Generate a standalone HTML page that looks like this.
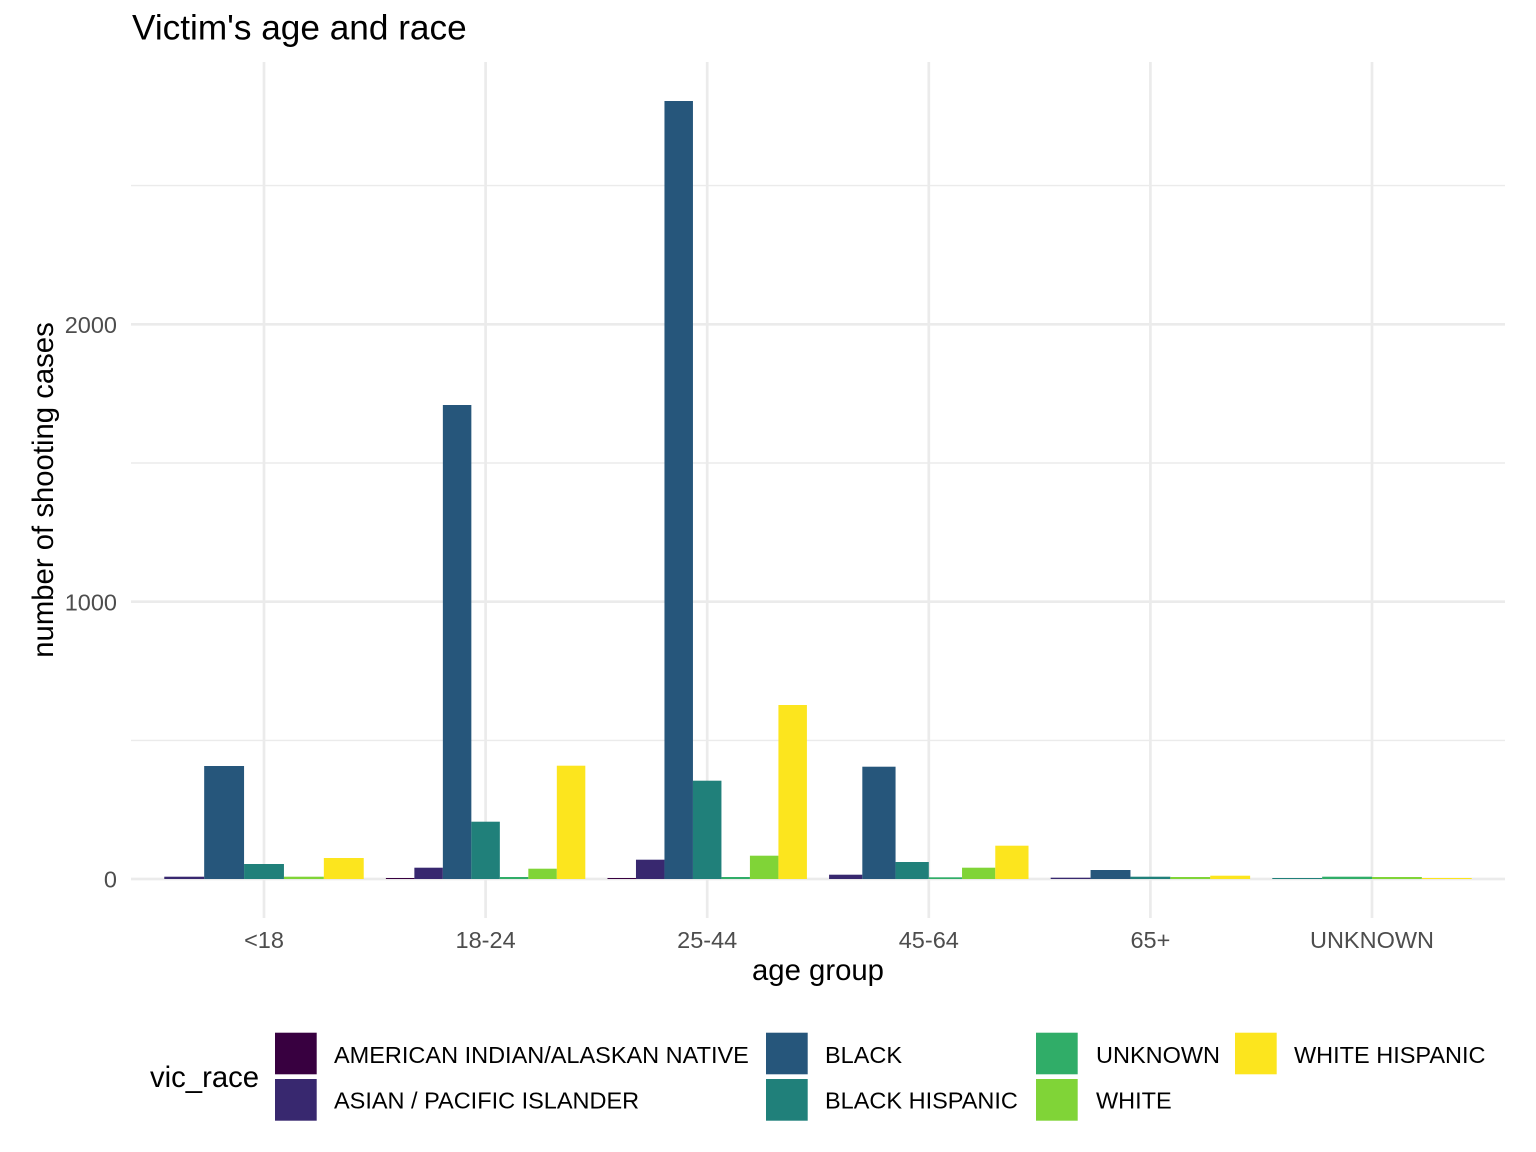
<!DOCTYPE html>
<html>
<head>
<meta charset="utf-8">
<style>
  html,body{margin:0;padding:0;background:#fff;}
  svg{display:block;}
  text{font-family:"Liberation Sans", Arial, sans-serif;}
</style>
</head>
<body>
<svg width="1536" height="1152" viewBox="0 0 1536 1152" xmlns="http://www.w3.org/2000/svg">
  <rect width="1536" height="1152" fill="#fff"/>

  <!-- minor horizontal gridlines -->
  <g stroke="#EBEBEB" stroke-width="1.4">
    <line x1="131" x2="1505" y1="740.4" y2="740.4"/>
    <line x1="131" x2="1505" y1="463" y2="463"/>
    <line x1="131" x2="1505" y1="185.6" y2="185.6"/>
  </g>
  <!-- major gridlines -->
  <g stroke="#EBEBEB" stroke-width="2.7">
    <line x1="131" x2="1505" y1="879" y2="879"/>
    <line x1="131" x2="1505" y1="601.7" y2="601.7"/>
    <line x1="131" x2="1505" y1="324.3" y2="324.3"/>
    <line x1="264" x2="264" y1="62" y2="918"/>
    <line x1="485.6" x2="485.6" y1="62" y2="918"/>
    <line x1="707.2" x2="707.2" y1="62" y2="918"/>
    <line x1="928.8" x2="928.8" y1="62" y2="918"/>
    <line x1="1150.4" x2="1150.4" y1="62" y2="918"/>
    <line x1="1372" x2="1372" y1="62" y2="918"/>
  </g>

  <!-- bars: <18 (5 bars, w 39.89) -->
  <g>
    <rect x="164.28" y="876.7" width="39.89" height="2.3" fill="#38286F"/>
    <rect x="204.17" y="766" width="39.89" height="113" fill="#26567B"/>
    <rect x="244.06" y="864" width="39.89" height="15" fill="#20807A"/>
    <rect x="283.95" y="876.7" width="39.89" height="2.3" fill="#80D437"/>
    <rect x="323.84" y="858" width="39.89" height="21" fill="#FCE51E"/>
  </g>
  <!-- 18-24 (7 bars, w 28.49) -->
  <g>
    <rect x="385.88" y="878" width="28.49" height="1" fill="#380040"/>
    <rect x="414.37" y="867.7" width="28.49" height="11.3" fill="#38286F"/>
    <rect x="442.86" y="405" width="28.49" height="474" fill="#26567B"/>
    <rect x="471.35" y="821.7" width="28.49" height="57.3" fill="#20807A"/>
    <rect x="499.84" y="877" width="28.49" height="2" fill="#30AD68"/>
    <rect x="528.33" y="868.7" width="28.49" height="10.3" fill="#80D437"/>
    <rect x="556.82" y="765.7" width="28.49" height="113.3" fill="#FCE51E"/>
  </g>
  <!-- 25-44 -->
  <g>
    <rect x="607.48" y="878" width="28.49" height="1" fill="#380040"/>
    <rect x="635.97" y="859.7" width="28.49" height="19.3" fill="#38286F"/>
    <rect x="664.46" y="101" width="28.49" height="778" fill="#26567B"/>
    <rect x="692.95" y="780.7" width="28.49" height="98.3" fill="#20807A"/>
    <rect x="721.44" y="877" width="28.49" height="2" fill="#30AD68"/>
    <rect x="749.93" y="855.7" width="28.49" height="23.3" fill="#80D437"/>
    <rect x="778.42" y="705" width="28.49" height="174" fill="#FCE51E"/>
  </g>
  <!-- 45-64 (6 bars, w 33.24) -->
  <g>
    <rect x="829.08" y="874.7" width="33.24" height="4.3" fill="#38286F"/>
    <rect x="862.32" y="766.7" width="33.24" height="112.3" fill="#26567B"/>
    <rect x="895.56" y="862" width="33.24" height="17" fill="#20807A"/>
    <rect x="928.80" y="877.3" width="33.24" height="1.7" fill="#30AD68"/>
    <rect x="962.04" y="867.7" width="33.24" height="11.3" fill="#80D437"/>
    <rect x="995.28" y="845.7" width="33.24" height="33.3" fill="#FCE51E"/>
  </g>
  <!-- 65+ (5 bars, w 39.89) -->
  <g>
    <rect x="1050.68" y="877.7" width="39.89" height="1.3" fill="#38286F"/>
    <rect x="1090.57" y="870" width="39.89" height="9" fill="#26567B"/>
    <rect x="1130.46" y="876.7" width="39.89" height="2.3" fill="#20807A"/>
    <rect x="1170.35" y="877" width="39.89" height="2" fill="#80D437"/>
    <rect x="1210.24" y="875.7" width="39.89" height="3.3" fill="#FCE51E"/>
  </g>
  <!-- UNKNOWN (4 bars, w 49.86) -->
  <g>
    <rect x="1272.28" y="878" width="49.86" height="1" fill="#20807A"/>
    <rect x="1322.14" y="876.7" width="49.86" height="2.3" fill="#30AD68"/>
    <rect x="1372.00" y="877" width="49.86" height="2" fill="#80D437"/>
    <rect x="1421.86" y="878" width="49.86" height="1" fill="#FCE51E"/>
  </g>

  <!-- title -->
  <text x="132" y="39.5" font-size="35.2" fill="#000">Victim's age and race</text>

  <!-- y tick labels -->
  <g font-size="23.5" fill="#4D4D4D" text-anchor="end">
    <text x="117" y="887.5">0</text>
    <text x="117" y="610.3">1000</text>
    <text x="117" y="333">2000</text>
  </g>

  <!-- x tick labels -->
  <g font-size="23.5" fill="#4D4D4D" text-anchor="middle">
    <text x="264" y="948">&lt;18</text>
    <text x="485.6" y="948">18-24</text>
    <text x="707.2" y="948">25-44</text>
    <text x="928.8" y="948">45-64</text>
    <text x="1150.4" y="948">65+</text>
    <text x="1372" y="948">UNKNOWN</text>
  </g>

  <!-- axis titles -->
  <text x="818" y="980" font-size="29.3" fill="#000" text-anchor="middle">age group</text>
  <text transform="translate(53,490) rotate(-90)" font-size="29.3" fill="#000" text-anchor="middle">number of shooting cases</text>

  <!-- legend -->
  <text x="150" y="1087" font-size="29.3" fill="#000">vic_race</text>
  <g>
    <rect x="275" y="1032.7" width="41.7" height="41.6" fill="#380040"/>
    <rect x="275" y="1079" width="41.7" height="41.7" fill="#38286F"/>
    <rect x="766" y="1032.7" width="41.7" height="41.6" fill="#26567B"/>
    <rect x="766" y="1079" width="41.7" height="41.7" fill="#20807A"/>
    <rect x="1036" y="1032.7" width="41.7" height="41.6" fill="#30AD68"/>
    <rect x="1036" y="1079" width="41.7" height="41.7" fill="#80D437"/>
    <rect x="1235" y="1032.7" width="41.7" height="41.6" fill="#FCE51E"/>
  </g>
  <g font-size="23.5" fill="#000">
    <text x="334" y="1062.8">AMERICAN INDIAN/ALASKAN NATIVE</text>
    <text x="334" y="1108.3">ASIAN / PACIFIC ISLANDER</text>
    <text x="825" y="1062.8">BLACK</text>
    <text x="825" y="1108.3">BLACK HISPANIC</text>
    <text x="1096" y="1062.8">UNKNOWN</text>
    <text x="1096" y="1108.3">WHITE</text>
    <text x="1294" y="1062.8">WHITE HISPANIC</text>
  </g>
</svg>
</body>
</html>
